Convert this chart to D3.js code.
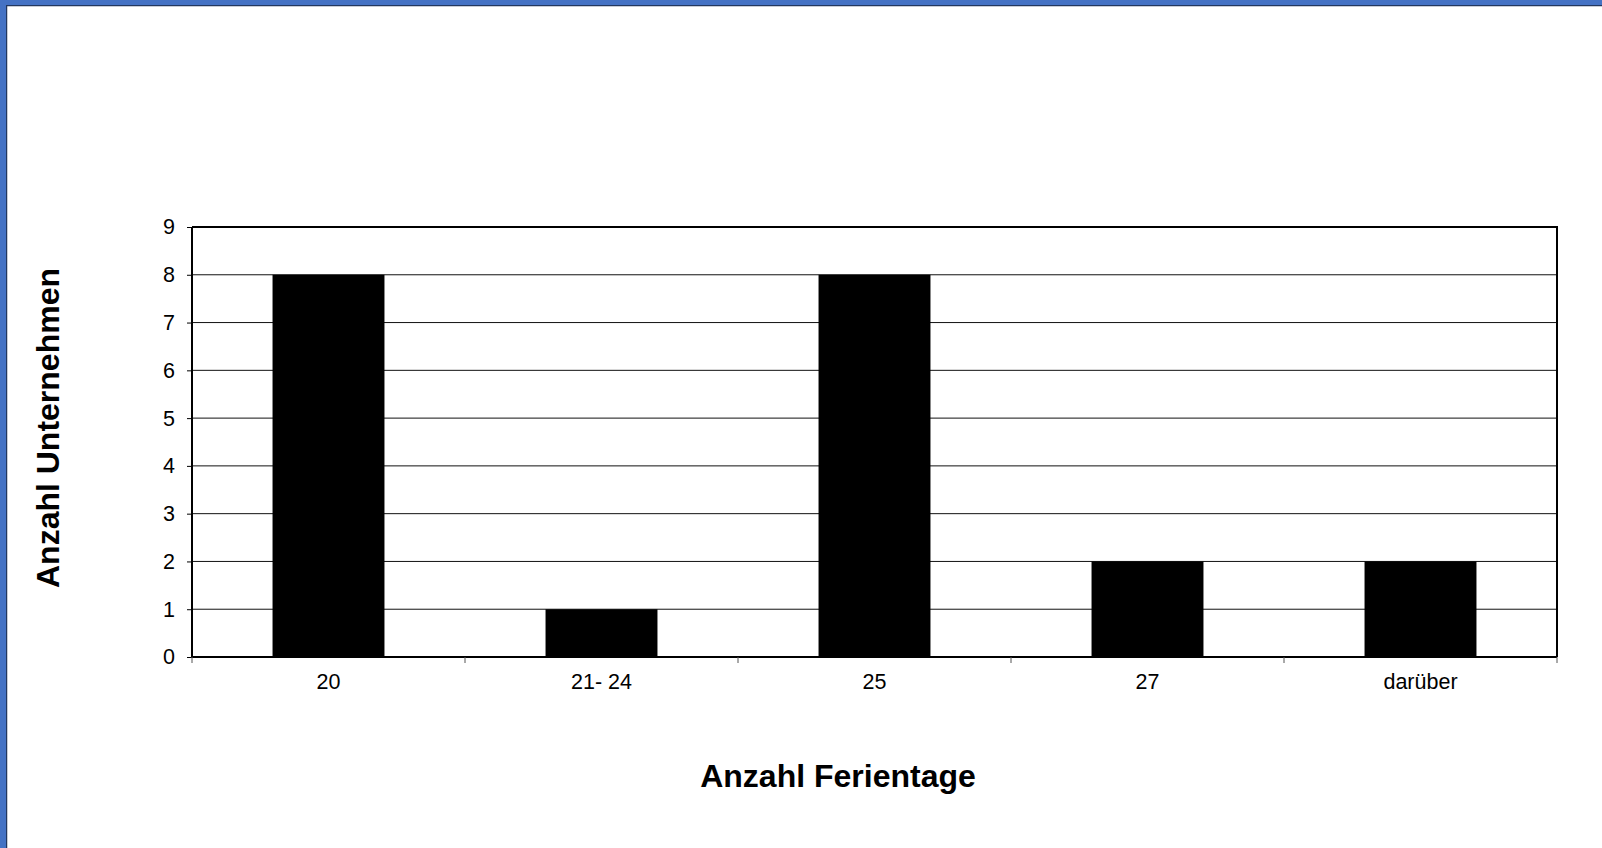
<!DOCTYPE html>
<html>
<head>
<meta charset="utf-8">
<script src="https://cdn.jsdelivr.net/npm/d3@7"></script>
<style>
  html, body { margin: 0; padding: 0; background: #4472C4; overflow: hidden; }
  #chart { position: absolute; left: 6px; top: 5px; }
</style>
</head>
<body>
<div id="chart"></div>
<script>
// Data
var categories = ["20", "21- 24", "25", "27", "darüber"]
var values = [8, 1, 8, 2, 2]
var yTicks = [0, 1, 2, 3, 4, 5, 6, 7, 8, 9]

var chartWidth = 1602 - 6
var chartHeight = 848 - 5
// plot area (inside the white panel)
var plotLeft = 186, plotTop = 222, plotRight = 1551, plotBottom = 652

const svg = d3.select('#chart').append('svg')
  .attr('width', chartWidth)
  .attr('height', chartHeight)
  .style('display', 'block')

// panel (right and bottom edges run off the page)
svg.append('rect')
  .attr('x', 0.5).attr('y', 0.5)
  .attr('width', chartWidth + 10).attr('height', chartHeight + 10)
  .attr('fill', '#fff')
  .attr('stroke', '#22375e')
  .attr('stroke-width', 1.5)

const x = d3.scaleBand()
  .domain(categories)
  .range([plotLeft, plotRight])
  .paddingInner(0.59)
  .paddingOuter(0.295)

const y = d3.scaleLinear()
  .domain([0, 9])
  .range([plotBottom, plotTop])

// gridlines
svg.append('g')
  .selectAll('line')
  .data(yTicks.filter(d => d > 0 && d < 9))
  .enter()
  .append('line')
  .attr('x1', plotLeft).attr('x2', plotRight)
  .attr('y1', d => y(d)).attr('y2', d => y(d))
  .attr('stroke', '#111')
  .attr('stroke-width', 1)

// bars
svg.append('g')
  .selectAll('rect')
  .data(values)
  .enter()
  .append('rect')
  .attr('x', (d, i) => x(categories[i]))
  .attr('y', d => y(d))
  .attr('width', x.bandwidth())
  .attr('height', d => y(0) - y(d))
  .attr('fill', '#000')

// plot border (top, right)
svg.append('path')
  .attr('d', `M${plotLeft},${plotTop}H${plotRight}V${plotBottom}`)
  .attr('fill', 'none')
  .attr('stroke', '#000')
  .attr('stroke-width', 2)

// y axis
const yAxis = svg.append('g')
  .attr('transform', `translate(${plotLeft},0)`)
  .call(d3.axisLeft(y).tickValues(yTicks).tickSize(5).tickPadding(12).tickFormat(d3.format('d')))
yAxis.select('.domain').attr('stroke-width', 2).attr('d', `M0,${plotTop}V${plotBottom}`)
yAxis.selectAll('.tick line').attr('stroke-width', 1)
yAxis.selectAll('text')
  .style('font-family', 'Liberation Sans, Arial, sans-serif')
  .style('font-size', '21.5px')
  .attr('fill', '#000')

// x axis, ticks at category boundaries
const bounds = d3.range(categories.length + 1).map(i => plotLeft + i * x.step())
const xg = svg.append('g')
xg.append('line')
  .attr('x1', plotLeft).attr('x2', plotRight)
  .attr('y1', plotBottom).attr('y2', plotBottom)
  .attr('stroke', '#000').attr('stroke-width', 2)
xg.selectAll('.tk')
  .data(bounds)
  .enter()
  .append('line')
  .attr('class', 'tk')
  .attr('x1', d => d).attr('x2', d => d)
  .attr('y1', plotBottom).attr('y2', plotBottom + 6)
  .attr('stroke', '#555').attr('stroke-width', 1)
xg.selectAll('text')
  .data(categories)
  .enter()
  .append('text')
  .attr('x', d => x(d) + x.bandwidth() / 2)
  .attr('y', plotBottom + 32)
  .attr('text-anchor', 'middle')
  .style('font-family', 'Liberation Sans, Arial, sans-serif')
  .style('font-size', '21.5px')
  .text(d => d)

// axis titles
svg.append('text')
  .attr('x', 832)
  .attr('y', 782)
  .attr('text-anchor', 'middle')
  .style('font-family', 'Liberation Sans, Arial, sans-serif')
  .style('font-size', '32px')
  .style('font-weight', 'bold')
  .text('Anzahl Ferientage')

svg.append('text')
  .attr('transform', `translate(53,423)rotate(-90)`)
  .attr('text-anchor', 'middle')
  .style('font-family', 'Liberation Sans, Arial, sans-serif')
  .style('font-size', '32px')
  .style('font-weight', 'bold')
  .text('Anzahl Unternehmen')
</script>
</body>
</html>
